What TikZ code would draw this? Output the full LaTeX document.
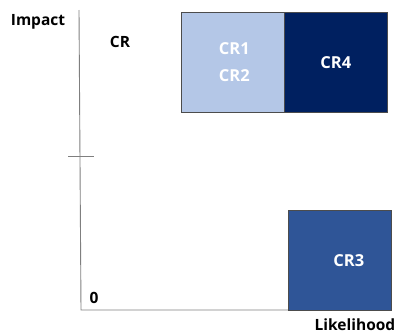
\documentclass[tikz,border=0pt]{standalone}
\usepackage{fontspec}
\setmainfont{Open Sans}
\definecolor{lightcell}{HTML}{B4C7E7}
\definecolor{darkcell}{HTML}{002060}
\definecolor{midcell}{HTML}{2F5597}
\definecolor{axisgray}{HTML}{7F7F7F}
\begin{document}
\begin{tikzpicture}[x=1pt,y=-1pt,
  axis/.style={draw=axisgray,line width=0.9pt},
  cell/.style={draw=black!70,line width=0.6pt,minimum width=103pt,minimum height=100pt,
    inner sep=0pt,font=\bfseries\fontsize{16.5}{27}\selectfont,text=white,align=center},
  lbl/.style={font=\bfseries\fontsize{15.5}{18}\selectfont,inner sep=0pt}]
\useasboundingbox (0,0) rectangle (397,335);
% axes
\coordinate (ytop) at (79,10);
\coordinate (origin) at (81,310);
\coordinate (xend) at (288,310);
\coordinate (tickl) at (68,156);
\coordinate (tickr) at (94,156);
\draw[axis] (ytop) -- (origin) -- (xend);
\draw[axis] (tickl) -- (tickr);
% cells
\node[cell,fill=lightcell,anchor=north west] (c12) at (181,12) {\hspace*{3pt}CR1\\\hspace*{3pt}CR2};
\node[cell,fill=darkcell,anchor=north west] (c4) at (284,12) {\raisebox{-2pt}{CR4}};
\node[cell,fill=midcell,anchor=north west] (c3) at (288,210) {\hspace*{18pt}\raisebox{-6pt}{CR3}};
% labels
\node[lbl] (impact) at (38,22) {Impact};
\node[lbl] (cr) at (120,42) {CR};
\node[lbl] (zero) at (94,298) {0};
\node[lbl] (likelihood) at (355,325) {Likelihood};
\end{tikzpicture}
\end{document}
